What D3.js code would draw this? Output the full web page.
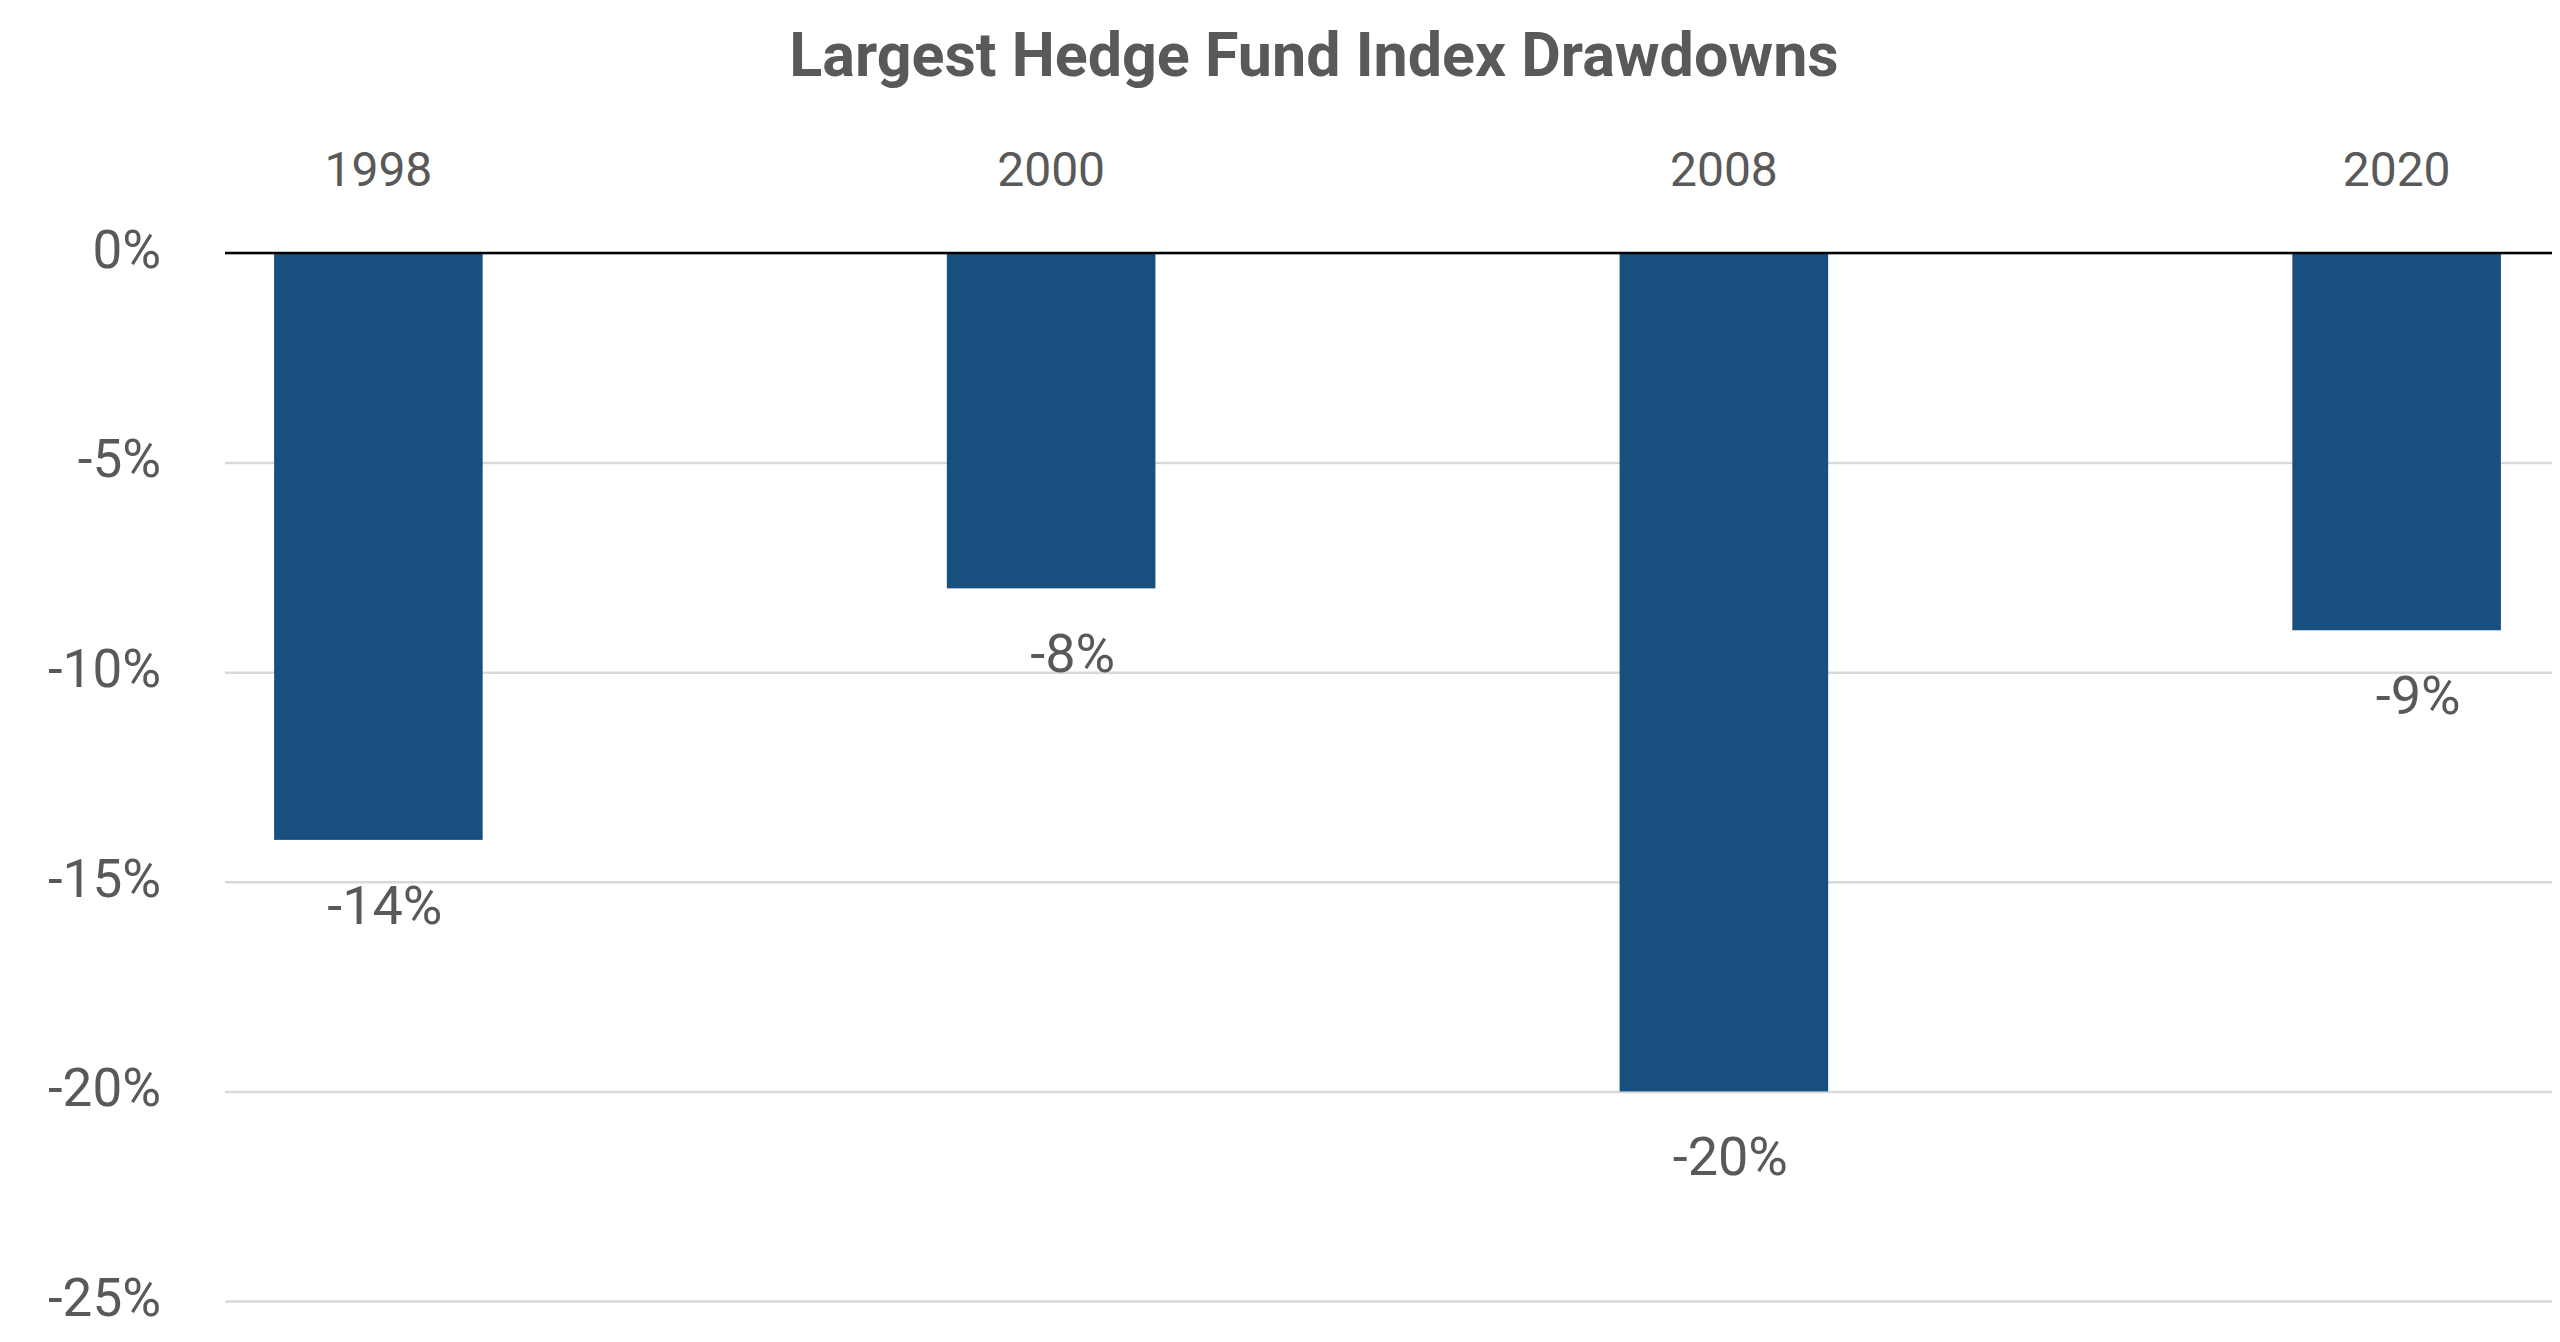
<!DOCTYPE html>
<html>
<head>
<meta charset="utf-8">
<script src="https://cdn.jsdelivr.net/npm/d3@7"></script>
<style>
  html, body { margin: 0; padding: 0; background: #fff; }
  svg { display: block; font-family: Roboto, "Noto Sans", sans-serif; }
</style>
</head>
<body>
<svg id="chart" width="2560" height="1342"></svg>
<script>
const title = "Largest Hedge Fund Index Drawdowns";
const categories = ["1998", "2000", "2008", "2020"];
const drawdowns = [-14, -8, -20, -9];
const yTicks = [0, -5, -10, -15, -20, -25];

const W = 2560, H = 1342;
const svg = d3.select("#chart");
const textColor = "#595959";

const plotLeft = 225, plotRight = 2552;
const y = d3.scaleLinear().domain([0, -25]).range([253, 1301]);
const x = d3.scaleBand().domain(categories).range([42, 2733])
  .paddingInner(0.69).paddingOuter(0.345);

// title
svg.append("text")
  .attr("x", 1314).attr("y", 76)
  .attr("text-anchor", "middle")
  .attr("font-size", 61).attr("font-weight", 700)
  .attr("fill", textColor)
  .text(title);

// gridlines
const yAxis = d3.axisLeft(y).tickValues(yTicks)
  .tickSize(-(plotRight - plotLeft))
  .tickFormat(d => d + "%");
const gy = svg.append("g").attr("transform", `translate(${plotLeft},0)`).call(yAxis);
gy.select(".domain").remove();
gy.selectAll(".tick line").attr("stroke", "#d9d9d9").attr("stroke-width", 2.5);
gy.selectAll(".tick text")
  .attr("x", -64).attr("dy", "0.27em")
  .attr("font-size", 53).attr("fill", textColor)
  .attr("font-family", "Roboto, sans-serif");

// bars
svg.append("g").selectAll("rect")
  .data(categories)
  .join("rect")
  .attr("x", (c) => x(c))
  .attr("width", x.bandwidth())
  .attr("y", (c, i) => y(Math.max(0, drawdowns[i])))
  .attr("height", (c, i) => Math.abs(y(drawdowns[i]) - y(0)))
  .attr("fill", "#174f7f");

// zero line
svg.append("line")
  .attr("x1", plotLeft).attr("x2", plotRight)
  .attr("y1", y(0)).attr("y2", y(0))
  .attr("stroke", "#000").attr("stroke-width", 2.5);

// category labels (top)
const xAxis = d3.axisTop(x).tickSize(0).tickPadding(0);
const gx = svg.append("g").attr("transform", "translate(0,186)").call(xAxis);
gx.select(".domain").remove();
gx.selectAll(".tick text")
  .attr("dy", 0)
  .attr("font-size", 48).attr("fill", textColor)
  .attr("font-family", "Roboto, sans-serif");

// data labels
svg.append("g").selectAll("text")
  .data(categories)
  .join("text")
  .attr("x", (c) => x(c) + x.bandwidth() / 2 + 64)
  .attr("y", (c, i) => y(drawdowns[i]) + 84)
  .attr("text-anchor", "end")
  .attr("font-size", 54).attr("fill", textColor)
  .text((c, i) => drawdowns[i] + "%");
</script>
</body>
</html>
